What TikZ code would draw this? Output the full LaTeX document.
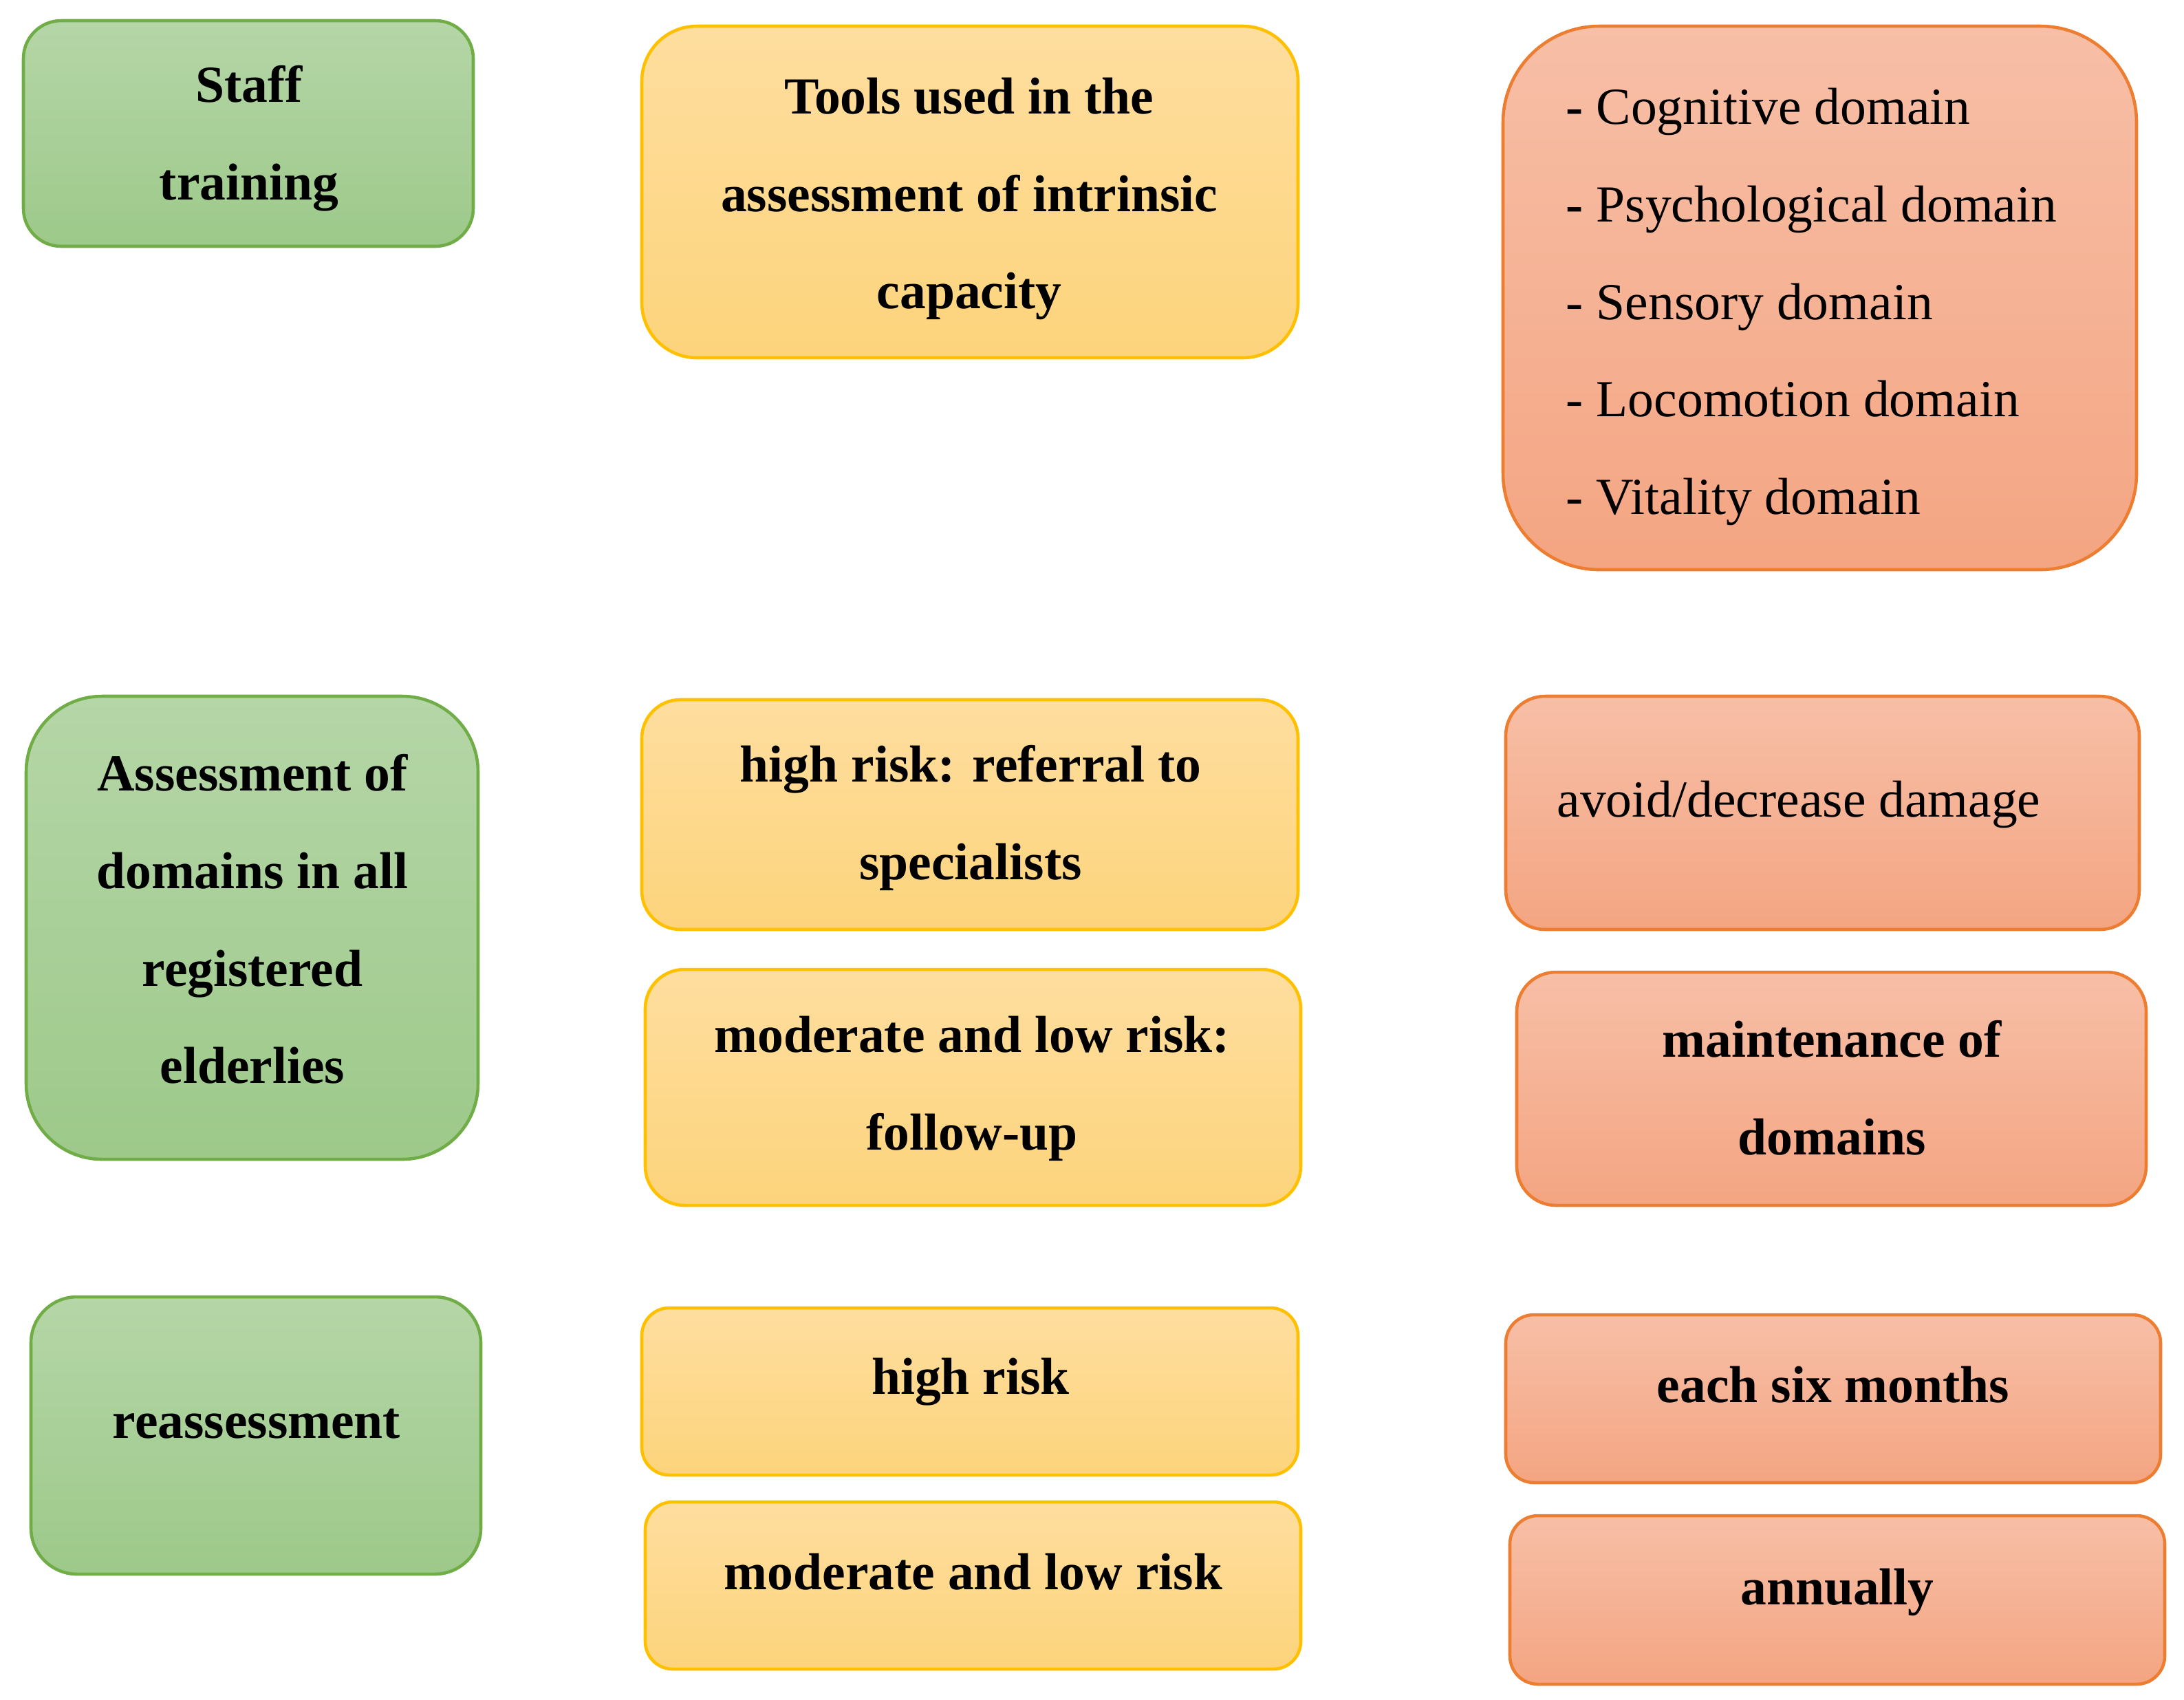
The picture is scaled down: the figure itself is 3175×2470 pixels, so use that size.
\documentclass[tikz,border=0pt]{standalone}
\usepackage{fontspec}
\setmainfont{Liberation Serif}
\definecolor{grnT}{HTML}{B5D6A7}
\definecolor{grnB}{HTML}{9DC98A}
\definecolor{grnL}{HTML}{70AD47}
\definecolor{ylwT}{HTML}{FEDE9F}
\definecolor{ylwB}{HTML}{FDD47C}
\definecolor{ylwL}{HTML}{FFC000}
\definecolor{orgT}{HTML}{F7BFA7}
\definecolor{orgB}{HTML}{F4A582}
\definecolor{orgL}{HTML}{ED7D31}
\tikzset{
  basebox/.style={line width=1.3pt, inner sep=0pt},
  gbox/.style={basebox, draw=grnL, top color=grnT, bottom color=grnB},
  ybox/.style={basebox, draw=ylwL, top color=ylwT, bottom color=ylwB},
  obox/.style={basebox, draw=orgL, top color=orgT, bottom color=orgB},
  txt/.style={font=\fontsize{21.5}{40.3}\selectfont\bfseries, align=center, inner sep=0pt},
  rtxt/.style={font=\fontsize{21.5}{40.3}\selectfont, align=left, inner sep=0pt},
}
\begin{document}
\begin{tikzpicture}[x=0.1mm,y=-0.1mm]
\useasboundingbox (0,0) rectangle (3175,2470);
% boxes
\node[gbox, minimum width=65.4mm, minimum height=32.8mm, rounded corners=5.5mm] (a1) at (361,194) {};
\node[ybox, minimum width=95.4mm, minimum height=48.2mm, rounded corners=8mm] (b1) at (1410,279) {};
\node[obox, minimum width=92.1mm, minimum height=79.0mm, rounded corners=14mm] (c1) at (2645.5,433) {};
\node[gbox, minimum width=65.7mm, minimum height=67.3mm, rounded corners=11mm] (a2) at (366.5,1348.5) {};
\node[ybox, minimum width=95.4mm, minimum height=33.4mm, rounded corners=5.6mm] (b2) at (1410,1184) {};
\node[ybox, minimum width=95.3mm, minimum height=34.3mm, rounded corners=5.7mm] (b3) at (1414.5,1580.5) {};
\node[obox, minimum width=92.1mm, minimum height=33.9mm, rounded corners=5.7mm] (c2) at (2649.5,1181.5) {};
\node[obox, minimum width=91.5mm, minimum height=33.9mm, rounded corners=5.7mm] (c3) at (2662.5,1582.5) {};
\node[gbox, minimum width=65.4mm, minimum height=40.3mm, rounded corners=6.7mm] (a3) at (372,2086.5) {};
\node[ybox, minimum width=95.4mm, minimum height=24.3mm, rounded corners=4mm] (b4) at (1410,2022.5) {};
\node[ybox, minimum width=95.3mm, minimum height=24.3mm, rounded corners=4mm] (b5) at (1414.5,2304.5) {};
\node[obox, minimum width=95.2mm, minimum height=24.4mm, rounded corners=4.1mm] (c4) at (2665,2033) {};
\node[obox, minimum width=95.2mm, minimum height=24.5mm, rounded corners=4.1mm] (c5) at (2671,2325.5) {};
% texts
\node[txt] (a1t) at (362,201) {Staff\\training};
\node[txt] (b1t) at (1409,289) {Tools used in the\\assessment of intrinsic\\capacity};
\node[rtxt, anchor=west] (c1t) at (2276,446) {{\bfseries -} Cognitive domain\\{\bfseries -} Psychological domain\\- Sensory domain\\- Locomotion domain\\- Vitality domain};
\node[txt] (a2t) at (367,1336) {Assessment of\\domains in all\\registered\\elderlies};
\node[txt] (b2t) at (1411,1189) {high risk: referral to\\specialists};
\node[txt] (b3t) at (1413,1582) {moderate and low risk:\\follow-up};
\node[rtxt] (c2t) at (2615,1169) {avoid/decrease damage};
\node[txt] (c3t) at (2663,1581) {maintenance of\\domains};
\node[txt] (a3t) at (373,2070) {reassessment};
\node[txt] (b4t) at (1411,2009) {high risk};
\node[txt] (b5t) at (1415,2285) {moderate and low risk};
\node[txt] (c4t) at (2665,2013) {each six months};
\node[txt] (c5t) at (2671,2314) {annually};
\end{tikzpicture}
\end{document}
